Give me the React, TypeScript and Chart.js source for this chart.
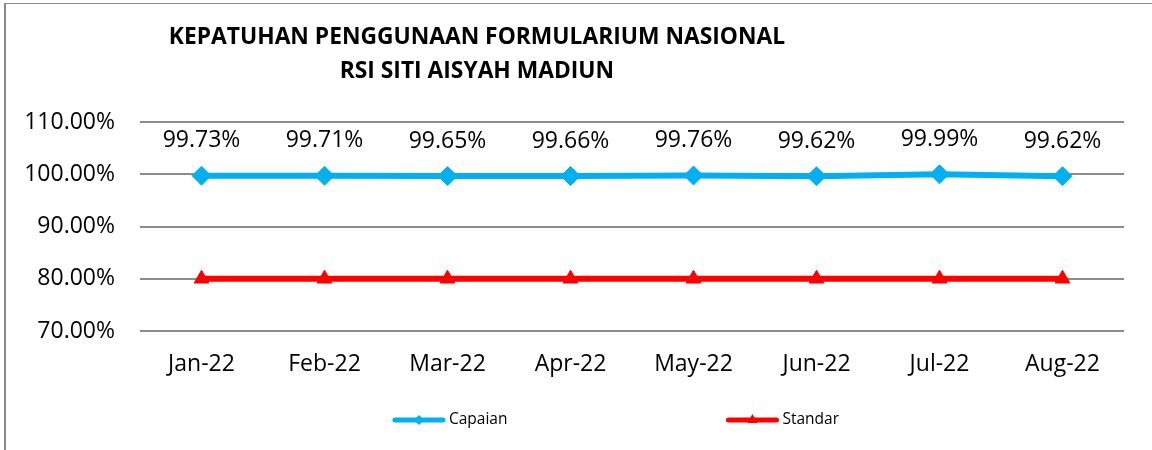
import React, { useEffect, useRef } from 'react';
import { Chart, registerables } from 'chart.js';

Chart.register(...registerables);

const categories = ['Jan-22', 'Feb-22', 'Mar-22', 'Apr-22', 'May-22', 'Jun-22', 'Jul-22', 'Aug-22'];
const capaian = [0.9973, 0.9971, 0.9965, 0.9966, 0.9976, 0.9962, 0.9999, 0.9962];
const standar = [0.8, 0.8, 0.8, 0.8, 0.8, 0.8, 0.8, 0.8];
const seriesNames = ['Capaian', 'Standar'];
const titleLines = ['KEPATUHAN PENGGUNAAN FORMULARIUM NASIONAL', 'RSI SITI AISYAH MADIUN'];
const yMin = 0.7;
const yMax = 1.1;
const yStep = 0.1;

const FONT = "'Open Sans', 'Noto Sans', sans-serif";
const BLUE = '#00B0F0';
const RED = '#FF0000';
const GRID = '#8C8C8C';

const fmtPct = (v: number) => (v * 100).toFixed(2) + '%';

const titlePlugin = {
  id: 'customTitle',
  afterDraw(chart: any) {
    const ctx = chart.ctx;
    ctx.save();
    ctx.font = `bold 22.8px ${FONT}`;
    ctx.fillStyle = '#000';
    ctx.textAlign = 'center';
    ctx.textBaseline = 'middle';
    const cx = chart.width * 0.414;
    ctx.fillText(titleLines[0], cx, 38);
    ctx.fillText(titleLines[1], cx, 72);
    ctx.restore();
  },
};

const dataLabelPlugin = {
  id: 'dataLabels',
  afterDatasetsDraw(chart: any) {
    const ctx = chart.ctx;
    const meta = chart.getDatasetMeta(0);
    ctx.save();
    ctx.font = `23px ${FONT}`;
    ctx.fillStyle = '#000';
    ctx.textAlign = 'center';
    ctx.textBaseline = 'middle';
    meta.data.forEach((pt: any, i: number) => {
      ctx.fillText(fmtPct(capaian[i]), pt.x, pt.y - 35);
    });
    ctx.restore();
  },
};

function drawMarker(ctx: CanvasRenderingContext2D, style: string, x: number, y: number, r: number, color: string) {
  ctx.fillStyle = color;
  ctx.beginPath();
  if (style === 'rectRot') {
    ctx.moveTo(x, y - r);
    ctx.lineTo(x + r, y);
    ctx.lineTo(x, y + r);
    ctx.lineTo(x - r, y);
  } else {
    ctx.moveTo(x, y - r);
    ctx.lineTo(x + r * 0.866, y + r / 2);
    ctx.lineTo(x - r * 0.866, y + r / 2);
  }
  ctx.closePath();
  ctx.fill();
}

const legendPlugin = {
  id: 'customLegend',
  afterDraw(chart: any) {
    const ctx = chart.ctx;
    ctx.save();
    ctx.font = `15.5px ${FONT}`;
    const lineLen = 52;
    const textGap = 4;
    const gap = 219;
    const widths = chart.data.datasets.map((ds: any) => lineLen + textGap + ctx.measureText(ds.label).width);
    const total = widths.reduce((a: number, b: number) => a + b, 0) + gap * (widths.length - 1);
    let x = chart.width * 0.5347 - total / 2;
    const y = chart.chartArea.bottom + 89;
    chart.data.datasets.forEach((ds: any, i: number) => {
      ctx.strokeStyle = ds.borderColor;
      ctx.lineWidth = 5;
      ctx.lineCap = 'round';
      ctx.beginPath();
      ctx.moveTo(x + 2, y);
      ctx.lineTo(x + lineLen - 2, y);
      ctx.stroke();
      drawMarker(ctx, ds.pointStyle, x + lineLen / 2, y, ds.pointStyle === 'rectRot' ? 5 : 6, ds.borderColor);
      ctx.fillStyle = '#000';
      ctx.textAlign = 'left';
      ctx.textBaseline = 'middle';
      ctx.fillText(ds.label, x + lineLen + textGap, y);
      x += widths[i] + gap;
    });
    ctx.restore();
  },
};

export default function App() {
  const canvasRef = useRef<HTMLCanvasElement | null>(null);

  useEffect(() => {
    if (!canvasRef.current) return;
    const chart = new Chart(canvasRef.current, {
      type: 'line',
      data: {
        labels: categories,
        datasets: [
          {
            label: seriesNames[0],
            data: capaian,
            borderColor: BLUE,
            backgroundColor: BLUE,
            borderWidth: 6,
            pointStyle: 'rectRot',
            pointRadius: 9.5,
            pointBorderWidth: 1,
            pointBackgroundColor: BLUE,
            pointBorderColor: BLUE,
            tension: 0,
            order: 1,
          },
          {
            label: seriesNames[1],
            data: standar,
            borderColor: RED,
            backgroundColor: RED,
            borderWidth: 6,
            pointStyle: 'triangle',
            pointRadius: 8.5,
            pointBorderWidth: 1,
            pointBackgroundColor: RED,
            pointBorderColor: RED,
            tension: 0,
            order: 2,
          },
        ],
      },
      options: {
        animation: false,
        responsive: true,
        maintainAspectRatio: false,
        layout: { padding: { top: 122, left: 0, right: 28, bottom: 69 } },
        plugins: {
          legend: { display: false },
          title: { display: false },
          tooltip: { enabled: false },
        },
        scales: {
          x: {
            type: 'category',
            offset: true,
            grid: { display: false, drawTicks: false },
            border: { display: false },
            ticks: {
              color: '#000',
              font: { family: FONT, size: 23 },
              padding: 20,
              maxRotation: 0,
              autoSkip: false,
            },
            afterFit(scale: any) {
              scale.height = 50;
            },
          },
          y: {
            min: yMin,
            max: yMax,
            grid: { color: GRID, lineWidth: 2, drawTicks: false },
            border: { display: false },
            ticks: {
              stepSize: yStep,
              color: '#000',
              font: { family: FONT, size: 23 },
              padding: 25,
              callback: (v: any) => fmtPct(Number(v)),
            },
            afterFit(scale: any) {
              scale.width = 140;
            },
          },
        },
      },
      plugins: [titlePlugin, dataLabelPlugin, legendPlugin],
    });
    return () => chart.destroy();
  }, []);

  return (
    <div style={{ position: 'absolute', left: 0, top: 0, width: 1152, height: 450, overflow: 'hidden', background: '#fff' }}>
      <div
        style={{
          position: 'absolute',
          left: 4,
          top: 3,
          width: 1200,
          height: 500,
          borderLeft: '2px solid #8A8A8A',
          borderTop: '1px solid #8A8A8A',
        }}
      />
      <div style={{ position: 'absolute', left: 0, top: 0, width: 1152, height: 450 }}>
        <canvas ref={canvasRef} />
      </div>
    </div>
  );
}
